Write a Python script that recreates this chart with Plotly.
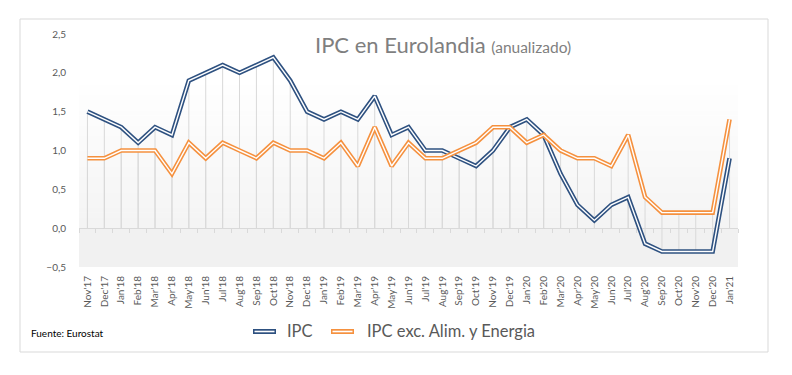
import plotly.graph_objects as go

# ---------------- data ----------------
months = ["Nov'17", "Dec'17", "Jan'18", "Feb'18", "Mar'18", "Apr'18", "May'18", "Jun'18",
          "Jul'18", "Aug'18", "Sep'18", "Oct'18", "Nov'18", "Dec'18", "Jan'19", "Feb'19",
          "Mar'19", "Apr'19", "May'19", "Jun'19", "Jul'19", "Aug'19", "Sep'19", "Oct'19",
          "Nov'19", "Dec'19", "Jan'20", "Feb'20", "Mar'20", "Apr'20", "May'20", "Jun'20",
          "Jul'20", "Aug'20", "Sep'20", "Oct'20", "Nov'20", "Dec'20", "Jan'21"]
ipc = [1.5, 1.4, 1.3, 1.1, 1.3, 1.2, 1.9, 2.0, 2.1, 2.0, 2.1, 2.2, 1.9, 1.5, 1.4, 1.5,
       1.4, 1.7, 1.2, 1.3, 1.0, 1.0, 0.9, 0.8, 1.0, 1.3, 1.4, 1.2, 0.7, 0.3, 0.1, 0.3,
       0.4, -0.2, -0.3, -0.3, -0.3, -0.3, 0.9]
core = [0.9, 0.9, 1.0, 1.0, 1.0, 0.7, 1.1, 0.9, 1.1, 1.0, 0.9, 1.1, 1.0, 1.0, 0.9, 1.1,
        0.8, 1.3, 0.8, 1.1, 0.9, 0.9, 1.0, 1.1, 1.3, 1.3, 1.1, 1.2, 1.0, 0.9, 0.9, 0.8,
        1.2, 0.4, 0.2, 0.2, 0.2, 0.2, 1.4]
y_ticks = [-0.5, 0.0, 0.5, 1.0, 1.5, 2.0, 2.5]
series_names = ["IPC", "IPC exc. Alim. y Energia"]

BLUE = "#2E5180"
ORANGE = "#F5913F"
GRID = "#D9D9D9"
TXT = "#595959"
FONT = "Lato, 'Open Sans', sans-serif"

W, H = 792, 375
OFF = 8  # page body margin offset
# target plot-area box in page pixels: x 79..738, y 34..267
ML = 79 - OFF
MT = 34 - OFF
MR = W - (738 - OFF)
MB = H - (267 - OFF)
PW, PH = W - ML - MR, H - MT - MB


def px(xp):
    return (xp - OFF - ML) / PW


def py(yp):
    return (H - MB - (yp - OFF)) / PH


ymin, ymax = y_ticks[0], y_ticks[-1]
zero_frac = (0 - ymin) / (ymax - ymin)

fig = go.Figure()

# drop lines (from each point to the category axis at 0)
for vals in (ipc, core):
    dx, dy = [], []
    for m, v in zip(months, vals):
        dx += [m, m, None]
        dy += [0, v, None]
    fig.add_trace(go.Scatter(x=dx, y=dy, mode="lines", line=dict(color=GRID, width=1),
                             hoverinfo="skip", showlegend=False))

# double lines: coloured outer stroke + white inner stroke
for vals, col, name in ((ipc, BLUE, series_names[0]), (core, ORANGE, series_names[1])):
    fig.add_trace(go.Scatter(x=months, y=vals, mode="lines", name=name,
                             line=dict(color=col, width=4.6), showlegend=False))
    fig.add_trace(go.Scatter(x=months, y=vals, mode="lines", hoverinfo="skip",
                             line=dict(color="white", width=1.4), showlegend=False))

# invisible trace for tick-mark axis
fig.add_trace(go.Scatter(x=months, y=[None] * len(months), xaxis="x2", mode="lines",
                         showlegend=False, hoverinfo="skip"))

shapes = []
# background: band below zero + vertical gradient above zero
shapes.append(dict(type="rect", xref="x domain", yref="y domain", x0=0, x1=1, y0=0,
                   y1=zero_frac, fillcolor="#F1F1F1", line=dict(width=0), layer="below"))
g_top = py(75)
nb = 30
for i in range(nb):
    f0 = zero_frac + (g_top - zero_frac) * i / nb
    f1 = zero_frac + (g_top - zero_frac) * (i + 1) / nb
    t = i / (nb - 1)
    c = int(round(244 + (255 - 244) * t))
    shapes.append(dict(type="rect", xref="x domain", yref="y domain", x0=0, x1=1, y0=f0,
                       y1=f1 + 0.002, fillcolor=f"rgb({c},{c},{c})", line=dict(width=0),
                       layer="below"))
# chart border
shapes.append(dict(type="rect", xref="paper", yref="paper", x0=px(20), x1=px(768),
                   y0=py(352), y1=py(19), line=dict(color=GRID, width=1)))
# legend symbols
for x0, x1, col in ((253, 276, BLUE), (331, 354, ORANGE)):
    shapes.append(dict(type="line", xref="paper", yref="paper", x0=px(x0), x1=px(x1),
                       y0=py(331.5), y1=py(331.5), line=dict(color=col, width=5)))
    shapes.append(dict(type="line", xref="paper", yref="paper", x0=px(x0 + 1.5), x1=px(x1 - 1.5),
                       y0=py(331.5), y1=py(331.5), line=dict(color="white", width=1.6)))

annotations = [
    dict(text="IPC en Eurolandia <span style='font-size:15.5px'>(anualizado)</span>",
         xref="paper", yref="paper", x=px(313), y=py(45), xanchor="left", yanchor="middle",
         showarrow=False, font=dict(family=FONT, size=22, color="#7F7F7F")),
    dict(text="Fuente: Eurostat", xref="paper", yref="paper", x=px(29), y=py(333),
         xanchor="left", yanchor="middle", showarrow=False,
         font=dict(family=FONT, size=10, color="#000000")),
    dict(text=series_names[0], xref="paper", yref="paper", x=px(285), y=py(331),
         xanchor="left", yanchor="middle", showarrow=False,
         font=dict(family=FONT, size=16.5, color=TXT)),
    dict(text=series_names[1], xref="paper", yref="paper", x=px(365), y=py(331),
         xanchor="left", yanchor="middle", showarrow=False,
         font=dict(family=FONT, size=16.5, color=TXT)),
]

fig.update_layout(
    width=W, height=H,
    margin=dict(l=ML, r=MR, t=MT, b=MB),
    paper_bgcolor="white", plot_bgcolor="white",
    separators=", ",
    font=dict(family=FONT, color=TXT),
    showlegend=False,
    shapes=shapes,
    annotations=annotations,
    xaxis=dict(type="category", categoryorder="array", categoryarray=months,
               range=[-0.5, len(months) - 0.5], showgrid=False, zeroline=False,
               showline=False, tickangle=-90, tickfont=dict(size=10, color=TXT),
               ticks="outside", ticklen=4, tickcolor="rgba(0,0,0,0)"),
    xaxis2=dict(type="category", categoryorder="array", categoryarray=months,
                overlaying="x", anchor="free", position=zero_frac, side="bottom",
                range=[-0.5, len(months) - 0.5], showgrid=False, zeroline=False,
                showline=False, showticklabels=False, ticks="outside", ticklen=4,
                tickcolor=GRID, tickson="boundaries"),
    yaxis=dict(range=[ymin, ymax], tickvals=y_ticks, tickformat=".1f", showgrid=False,
               zeroline=True, zerolinecolor=GRID, zerolinewidth=1, showline=False,
               tickfont=dict(size=10, color=TXT), ticks="outside", ticklen=10,
               tickcolor="rgba(0,0,0,0)"),
)

fig.write_html("out.html")
